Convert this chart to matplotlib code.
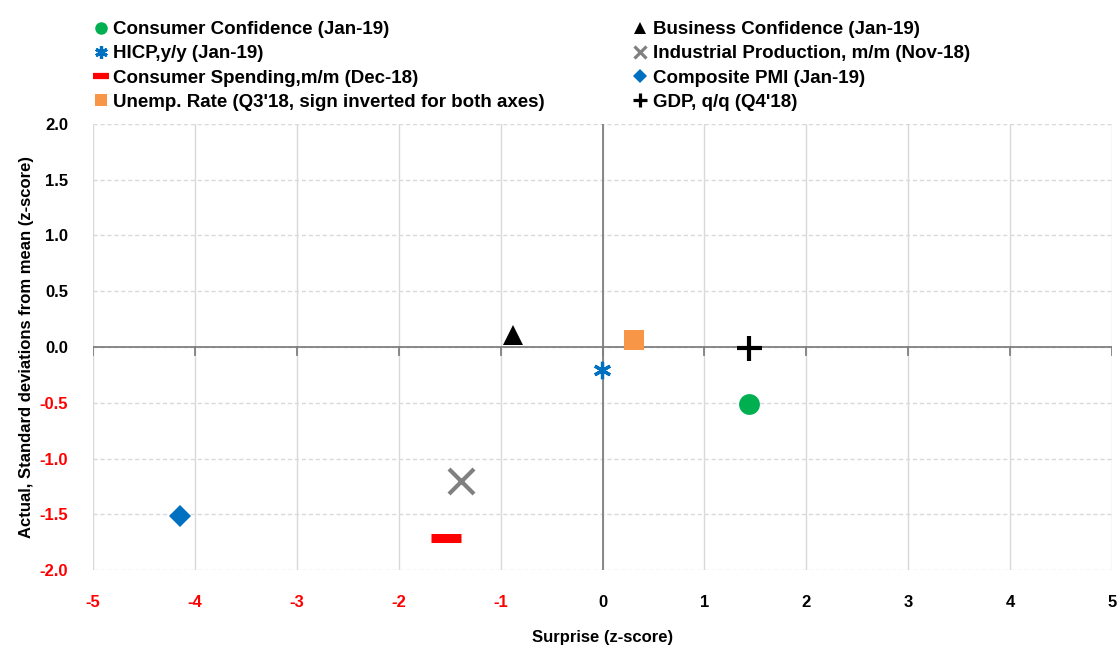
import matplotlib.pyplot as plt
import numpy as np

plt.rcParams['font.family'] = ['Liberation Sans Narrow', 'Liberation Sans', 'DejaVu Sans']
plt.rcParams['font.weight'] = 'bold'

# series: name, surprise (x), actual (y)
names = ['Consumer Confidence (Jan-19)', 'HICP,y/y (Jan-19)',
         'Consumer Spending,m/m (Dec-18)', "Unemp. Rate (Q3'18, sign inverted for both axes)",
         'Business Confidence (Jan-19)', 'Industrial Production, m/m (Nov-18)',
         'Composite PMI (Jan-19)', "GDP, q/q (Q4'18)"]
surprise = [1.44, -0.01, -1.54, 0.31, -0.88, -1.39, -4.15, 1.44]
actual = [-0.51, -0.21, -1.71, 0.06, 0.11, -1.20, -1.51, -0.01]

styles = [
    dict(marker='o', color='#00B050', ms=15, mew=0),
    dict(marker=(6, 2, 0), color='#0070C0', ms=12.5, mew=2.3),
    dict(marker='_', color='#FF0000', ms=21, mew=6.5),
    dict(marker='s', color='#F79646', ms=14.5, mew=0),
    dict(marker='^', color='#000000', ms=15, mew=0),
    dict(marker='x', color='#808080', ms=18, mew=3),
    dict(marker='D', color='#0070C0', ms=11, mew=0),
    dict(marker='+', color='#000000', ms=18, mew=3),
]
leg_styles = [
    dict(marker='o', ms=9), dict(marker=(6, 2, 0), ms=9, mew=2.3),
    dict(marker='_', ms=12, mew=4.5), dict(marker='s', ms=9),
    dict(marker='^', ms=9), dict(marker='x', ms=8, mew=2.3),
    dict(marker='D', ms=7), dict(marker='+', ms=10, mew=2.3),
]

fig = plt.figure(figsize=(11.2, 6.48), dpi=100)
ax = fig.add_axes([0.083, 0.12, 0.910, 0.689])

handles = []
for n, x, y, st, ls in zip(names, surprise, actual, styles, leg_styles):
    ax.plot([x], [y], linestyle='none', marker=st['marker'], color=st['color'],
            markersize=st['ms'], markeredgewidth=st['mew'], zorder=5)
    h, = plt.plot([], [], linestyle='none', marker=ls['marker'], color=st['color'],
                  markersize=ls['ms'], markeredgewidth=ls.get('mew', 0), label=n)
    handles.append(h)

ax.set_xlim(-5, 5)
ax.set_ylim(-2, 2)
xt = np.arange(-5, 6, 1)
yt = np.arange(-2.0, 2.01, 0.5)
ax.set_xticks(xt)
ax.set_yticks(yt)
ax.set_xticklabels([str(v) for v in xt], fontsize=12, fontweight='bold')
ax.set_yticklabels(['%.1f' % v for v in yt], fontsize=12, fontweight='bold')
for lab, v in zip(ax.get_xticklabels(), xt):
    lab.set_color('#FF0000' if v < 0 else 'black')
for lab, v in zip(ax.get_yticklabels(), yt):
    lab.set_color('#FF0000' if v < 0 else 'black')
ax.tick_params(axis='both', length=0)
ax.tick_params(axis='x', pad=18)
ax.tick_params(axis='y', pad=18)

for s in ax.spines.values():
    s.set_visible(False)
for v in xt:
    ax.axvline(v, color='#D9D9D9', lw=1, zorder=1)
for v in yt:
    ax.axhline(v, color='#D9D9D9', lw=1, ls=(0, (3, 2)), zorder=1)
ax.axhline(0, color='#808080', lw=1.3, zorder=2)
ax.axvline(0, color='#808080', lw=1.3, zorder=2)
for v in xt:
    ax.plot([v, v], [0, -0.07], color='#808080', lw=1.3, zorder=2)

ax.set_xlabel('Surprise (z-score)', fontsize=12, fontweight='bold', labelpad=14)
ax.set_ylabel('Actual, Standard deviations from mean (z-score)', fontsize=12,
              fontweight='bold', labelpad=4)

fig.legend(handles=handles, ncol=2, loc='upper left', bbox_to_anchor=(0.0785, 0.979),
           frameon=False, fontsize=13.5, handlelength=0.6, handletextpad=0.35,
           labelspacing=0.38, columnspacing=4.8, borderaxespad=0)

fig.savefig('out.png', dpi=100)
